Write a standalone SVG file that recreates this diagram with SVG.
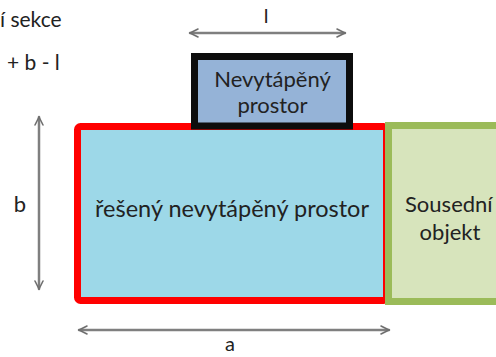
<svg xmlns="http://www.w3.org/2000/svg" width="496" height="357" viewBox="0 0 496 357">
<defs>
<style>
.t{font-family:Lato,"Open Sans","Liberation Sans",sans-serif;fill:#222222}
.dim{stroke:#7f7f7f;stroke-width:2.5;fill:none;stroke-linecap:round;stroke-linejoin:round}
</style>
<marker id="ah" viewBox="0 0 10 10" refX="9" refY="5" markerWidth="4" markerHeight="4" orient="auto-start-reverse" markerUnits="strokeWidth">
<path d="M1,1 L9,5 L1,9" fill="none" stroke="#6f6f6f" stroke-width="1.6" stroke-linecap="round" stroke-linejoin="round"/>
</marker>
</defs>
<rect width="496" height="357" fill="#ffffff"/>
<g id="legend">
<text class="t" x="0" y="27" font-size="21">í sekce</text>
<text class="t" x="7" y="70" font-size="21">+ b - l</text>
</g>
<g id="reseny">
<rect x="77.5" y="126.5" width="309" height="174" rx="3" fill="#9dd8e8" stroke="#ff0000" stroke-width="7"/>
<text class="t" x="232" y="217" font-size="23.5" text-anchor="middle">řešený nevytápěný prostor</text>
</g>
<g id="sousedni">
<rect x="388.5" y="125.5" width="120" height="176" fill="#d7e4bc" stroke="#9bbb59" stroke-width="7"/>
<text class="t" x="405" y="212" font-size="22">Sousední</text>
<text class="t" x="450" y="240" font-size="22" text-anchor="middle">objekt</text>
</g>
<g id="nevytapeny">
<rect x="194.5" y="56.5" width="155" height="69.5" fill="#95b3d7" stroke="#0d0d0d" stroke-width="7"/>
<text class="t" x="272.5" y="87" font-size="22" text-anchor="middle">Nevytápěný</text>
<text class="t" x="272.5" y="113" font-size="22" text-anchor="middle">prostor</text>
</g>
<g id="connectors">
<line class="dim" x1="190" y1="33" x2="345" y2="33" marker-start="url(#ah)" marker-end="url(#ah)"/>
<line class="dim" x1="39" y1="117" x2="39" y2="289" marker-start="url(#ah)" marker-end="url(#ah)"/>
<line class="dim" x1="79" y1="330" x2="389" y2="330" marker-start="url(#ah)" marker-end="url(#ah)"/>
</g>
<g id="labels">
<text class="t" x="266" y="23" font-size="20" text-anchor="middle">l</text>
<text class="t" x="20" y="212" font-size="22" text-anchor="middle">b</text>
<text class="t" x="230" y="351" font-size="20" text-anchor="middle">a</text>
</g>
</svg>
